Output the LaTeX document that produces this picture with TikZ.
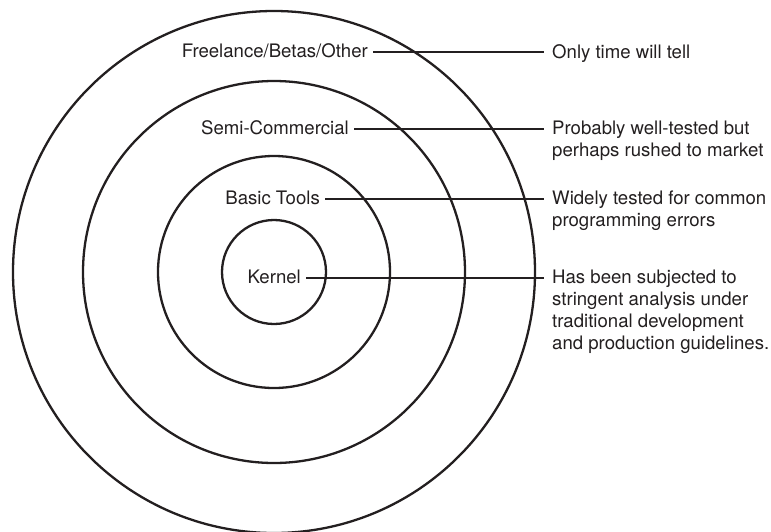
\documentclass[tikz,border=0pt]{standalone}
\usepackage{fontspec}
\setmainfont{TeX Gyre Heros}
\definecolor{ink}{HTML}{231F20}
\begin{document}
\begin{tikzpicture} [x=1pt, y=-1pt,
        ring/.style={draw=ink, line width=2.3pt},
        layer/.style={anchor=east, inner xsep=5pt, inner ysep=0pt, text height=13pt, text depth=3pt, text=ink},
        note/.style={anchor=north west, align=left, inner xsep=8pt, inner ysep=0pt, text=ink},
        font=\fontsize{18.6}{22}\selectfont ]
    \useasboundingbox (0,0) rectangle (771,531);
    \coordinate (c) at (274,272);
    \foreach \r in {52,116,191,261}
        \draw[ring] (c) circle (\r pt);

    \node[layer] (free)   at (373,52)  {Freelance/Betas/Other};
    \node[layer] (semi)   at (354,129) {Semi-Commercial};
    \node[layer] (basic)  at (325,199) {Basic Tools};
    \node[layer] (kernel) at (306,278) {Kernel};

    \node[note] (tell)   at (544,44)  {Only time will tell};
    \node[note] (rushed) at (544,121) {Probably well-tested but\\perhaps rushed to market};
    \node[note] (common) at (544,191) {Widely tested for common\\programming errors};
    \node[note] (strict) at (544,270) {Has been subjected to\\stringent analysis under\\traditional development\\and production guidelines.};

    \draw[ring] (free.east) -- (free.east -| tell.west);
    \draw[ring] (semi.east) -- (semi.east -| rushed.west);
    \draw[ring] (basic.east) -- (basic.east -| common.west);
    \draw[ring] (kernel.east) -- (kernel.east -| strict.west);
\end{tikzpicture}
\end{document}
